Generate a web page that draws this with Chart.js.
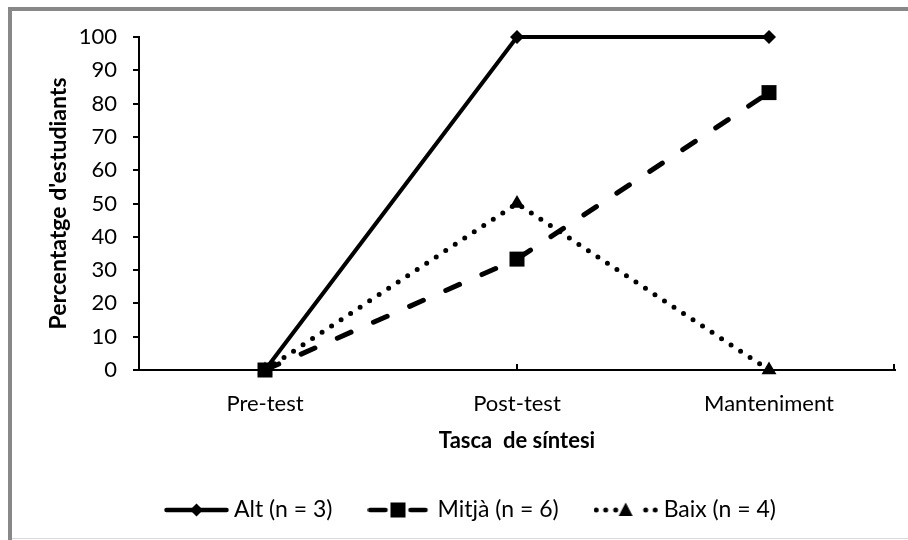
<!DOCTYPE html>
<html>
<head>
<meta charset="utf-8">
<script src="https://cdn.jsdelivr.net/npm/chart.js@4/dist/chart.umd.min.js"></script>
<style>
  html, body { margin: 0; padding: 0; background: #fff; }
  #wrap { position: relative; width: 908px; height: 540px; overflow: hidden; }
  #c { position: absolute; left: 0; top: 0; }
  .fr { position: absolute; pointer-events: none; }
</style>
</head>
<body>
<div id="wrap">
  <canvas id="c" width="908" height="540"></canvas>
  <div class="fr" style="left:8px;top:7px;width:4px;height:533px;background:#888;"></div>
  <div class="fr" style="left:8px;top:7px;width:900px;height:4px;background:#888;"></div>
  <div class="fr" style="left:12px;top:538px;width:896px;height:1px;background:#d9d9d9;"></div>
</div>
<script>
// ---- data ----
const categories = ['Pre-test', 'Post-test', 'Manteniment'];
const seriesNames = ['Alt (n = 3)', 'Mitjà (n = 6)', 'Baix (n = 4)'];
const altValues = [0, 100, 100];
const mitjaValues = [0, 33.3, 83.3];
const baixValues = [0, 50, 0];
const yTickMin = 0;
const yTickMax = 100;
const yTickStep = 10;
const xTitle = 'Tasca  de síntesi';
const yTitle = "Percentatge d'estudiants";

const FONT = 'Lato, "Open Sans", sans-serif';

// legend symbol images (66 px wide, content left-aligned)
function legendSymbol(kind) {
  const cv = document.createElement('canvas');
  cv.width = 66; cv.height = 20;
  const g = cv.getContext('2d');
  g.strokeStyle = '#000'; g.fillStyle = '#000';
  g.lineWidth = 4.5; g.lineCap = 'round';
  const cy = 10;
  if (kind === 0) {
    const cx = 32.5;
    g.beginPath(); g.moveTo(2.5, cy); g.lineTo(62.5, cy); g.stroke();
    g.beginPath(); g.moveTo(cx, cy - 6.5); g.lineTo(cx + 6.5, cy); g.lineTo(cx, cy + 6.5); g.lineTo(cx - 6.5, cy); g.closePath(); g.fill();
  } else if (kind === 1) {
    g.beginPath(); g.moveTo(2.5, cy); g.lineTo(18, cy); g.stroke();
    g.beginPath(); g.moveTo(43, cy); g.lineTo(58, cy); g.stroke();
    g.fillRect(23, cy - 7.5, 15, 15);
  } else {
    [2.5, 12, 22, 52, 61.5].forEach(x => { g.beginPath(); g.arc(x, cy, 2.5, 0, Math.PI * 2); g.fill(); });
    const cx = 32;
    g.beginPath(); g.moveTo(cx, cy - 7.5); g.lineTo(cx + 7, cy + 6); g.lineTo(cx - 7, cy + 6); g.closePath(); g.fill();
  }
  return cv;
}
const legendImgs = [legendSymbol(0), legendSymbol(1), legendSymbol(2)];

const xTickPlugin = {
  id: 'xTickMarks',
  afterDatasetsDraw(chart) {
    const a = chart.chartArea, ctx = chart.ctx;
    ctx.save();
    ctx.strokeStyle = '#000'; ctx.lineWidth = 2;
    [(a.left + a.right) / 2, a.right - 1].forEach(x => {
      ctx.beginPath(); ctx.moveTo(x, a.bottom); ctx.lineTo(x, a.bottom - 6); ctx.stroke();
    });
    ctx.restore();
  }
};

new Chart(document.getElementById('c'), {
  type: 'line',
  data: {
    labels: categories,
    datasets: [
      { label: seriesNames[0], data: altValues, borderColor: '#000', backgroundColor: '#000',
        borderWidth: 4, pointStyle: 'rectRot', pointRadius: 7, pointBorderWidth: 0, clip: false, order: 3 },
      { label: seriesNames[1], data: mitjaValues, borderColor: '#000', backgroundColor: '#000',
        borderWidth: 5, borderDash: [15, 24.5], borderCapStyle: 'round', pointStyle: 'rect', pointRadius: 10.6, pointBorderWidth: 0, clip: false, order: 1 },
      { label: seriesNames[2], data: baixValues, borderColor: '#000', backgroundColor: '#000',
        borderWidth: 5, borderDash: [0, 11.4], borderCapStyle: 'round', pointStyle: 'triangle', pointRadius: 8.6, pointBorderWidth: 0, clip: false, order: 2 }
    ]
  },
  options: {
    responsive: false,
    animation: false,
    events: [],
    layout: { padding: { left: 52.5, right: 13, top: 37, bottom: 8.5 }, autoPadding: false },
    plugins: {
      tooltip: { enabled: false },
      legend: {
        position: 'bottom',
        labels: {
          usePointStyle: true,
          pointStyleWidth: 51,
          padding: 42.5,
          color: '#000',
          font: { family: FONT, size: 23 },
          generateLabels(chart) {
            return chart.data.datasets.map((d, i) => ({
              text: d.label, pointStyle: legendImgs[i], fillStyle: '#000', strokeStyle: '#000',
              lineWidth: 0, hidden: false, datasetIndex: i, fontColor: '#000'
            }));
          }
        }
      }
    },
    scales: {
      x: {
        type: 'category',
        offset: true,
        afterFit(s) { s.height = 86; },
        grid: { display: false, drawTicks: false },
        border: { display: true, color: '#000', width: 2 },
        ticks: { color: '#000', padding: 21, font: { family: FONT, size: 22 } },
        title: { display: true, text: xTitle, color: '#000', padding: { top: 0, bottom: 2 },
                 font: { family: FONT, size: 22, weight: 'bold' } }
      },
      y: {
        min: yTickMin, max: yTickMax,
        afterFit(s) { s.width = 86.5; },
        grid: { drawOnChartArea: false, drawTicks: true, tickLength: 6, color: '#000', lineWidth: 2 },
        border: { display: true, color: '#000', width: 2 },
        ticks: { stepSize: yTickStep, color: '#000', padding: 16, font: { family: FONT, size: 22 } },
        title: { display: true, text: yTitle, color: '#000', padding: { top: -7.3, bottom: 0 },
                 font: { family: FONT, size: 23, weight: 'bold' } }
      }
    }
  },
  plugins: [xTickPlugin]
});
</script>
</body>
</html>
